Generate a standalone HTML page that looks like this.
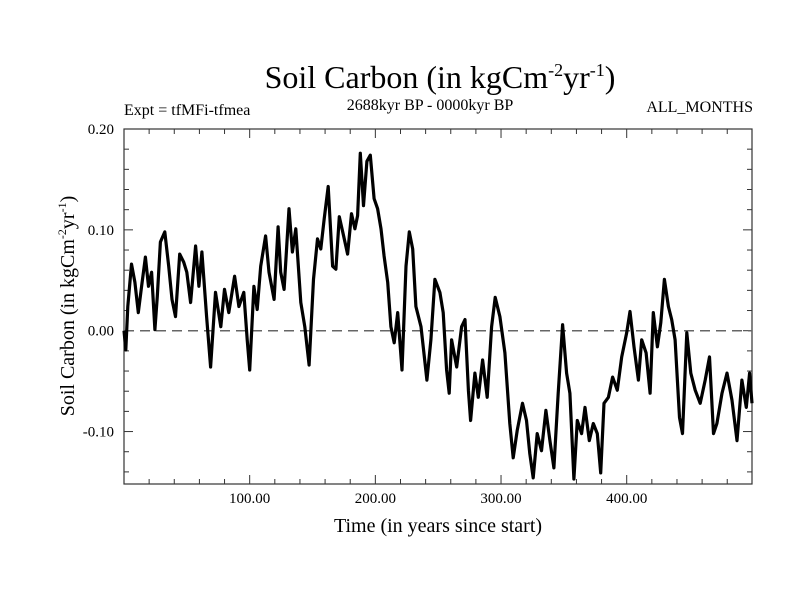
<!DOCTYPE html>
<html><head><meta charset="utf-8"><style>
body{margin:0;background:#fff;}
svg{display:block;font-family:"Liberation Serif",serif;}
</style></head><body>
<svg id="chart" width="800" height="600">
<text x="440" y="88" font-size="32" text-anchor="middle">Soil Carbon (in kgCm<tspan dy="-12" font-size="18">-2</tspan><tspan dy="12">yr</tspan><tspan dy="-12" font-size="18">-1</tspan><tspan dy="12">)</tspan></text>
<text x="124" y="115" font-size="16">Expt = tfMFi-tfmea</text>
<text x="430" y="110" font-size="16" text-anchor="middle">2688kyr BP - 0000kyr BP</text>
<text x="753" y="112" font-size="16" text-anchor="end">ALL_MONTHS</text>
<text x="438" y="532" font-size="20" text-anchor="middle">Time (in years since start)</text>
<text transform="translate(74,306) rotate(-90)" font-size="20" text-anchor="middle">Soil Carbon (in kgCm<tspan dy="-8" font-size="12">-2</tspan><tspan dy="8">yr</tspan><tspan dy="-8" font-size="12">-1</tspan><tspan dy="8">)</tspan></text>
<g id="axes"></g>
<g id="plot"></g>
</svg>
<script>
const years=[0,1.4,3,6,8.7,11.4,14,17,19.5,22,24.6,26.5,29,32.5,35.6,38.2,41,44.3,47.5,50,53,57,59.6,62,65.7,68.9,72.8,77,80,83.4,88,91.4,95.3,98,100,103.4,106,108.8,112.7,115.4,119.4,122.6,124.7,127.4,131.3,134,136.7,140.7,143.9,147.3,150.8,154,156.6,159.3,162.5,166,168.6,171.3,174.7,177.9,181,183.7,185.9,188,190.6,193.3,196,199,201.8,204.5,207,209.8,212.4,215,217.8,221.2,224.4,227,229.7,232.3,236.3,241,244.2,247.4,251.4,254,256.7,258.8,260.7,264.7,268.6,271.3,274,275.8,279.2,281.9,285.3,289,292.5,295.4,299.1,303.1,307,309.7,312.9,317.1,320.3,322.9,325.6,328.8,332.2,335.7,338.9,342.1,345.5,349,352.2,354.8,358,360.7,364.1,366.8,370.2,373.4,376.6,379.3,381.9,385.4,388.8,392.5,396,400,402.6,405.8,409.3,411.9,415.4,418.6,421.2,424.4,427.1,430,433.2,435.8,438.5,442,444.4,447.8,451,454.5,458.5,462.5,465.9,469.1,471.8,475.8,479.8,483.8,487.8,491.7,495.2,497.8,499.7];
const values=[0,-0.019,0.024,0.066,0.048,0.018,0.044,0.073,0.044,0.058,0.001,0.034,0.088,0.098,0.064,0.031,0.014,0.076,0.068,0.058,0.028,0.084,0.044,0.078,0.014,-0.036,0.038,0.004,0.041,0.018,0.054,0.024,0.038,-0.009,-0.039,0.044,0.021,0.064,0.094,0.058,0.031,0.103,0.058,0.041,0.121,0.078,0.101,0.028,0.004,-0.034,0.051,0.091,0.081,0.111,0.143,0.064,0.061,0.113,0.094,0.076,0.116,0.101,0.114,0.176,0.124,0.168,0.174,0.131,0.121,0.101,0.074,0.048,0.004,-0.012,0.018,-0.039,0.064,0.098,0.081,0.024,0.004,-0.049,-0.009,0.051,0.038,0.018,-0.039,-0.062,-0.009,-0.036,0.004,0.011,-0.059,-0.089,-0.042,-0.066,-0.029,-0.066,0.004,0.033,0.014,-0.022,-0.092,-0.126,-0.099,-0.072,-0.089,-0.122,-0.146,-0.102,-0.119,-0.079,-0.109,-0.136,-0.062,0.006,-0.042,-0.062,-0.147,-0.089,-0.102,-0.076,-0.109,-0.092,-0.102,-0.141,-0.072,-0.066,-0.046,-0.059,-0.026,-0.002,0.019,-0.016,-0.049,-0.009,-0.022,-0.062,0.018,-0.016,0.008,0.051,0.024,0.011,-0.009,-0.086,-0.102,-0.002,-0.042,-0.059,-0.072,-0.049,-0.026,-0.102,-0.092,-0.062,-0.042,-0.069,-0.109,-0.049,-0.076,-0.042,-0.072];
const xTickValues=[100,200,300,400];
const xTickLabels=["100.00","200.00","300.00","400.00"];
const yTickValues=[0.2,0.1,0,-0.1];
const yTickLabels=["0.20","0.10","0.00","-0.10"];
const L=124,R=752,T=129,B=484,X0=0,X1=499.7,Y0=-0.152,Y1=0.2;
const xs=v=>L+(v-X0)/(X1-X0)*(R-L);
const ys=v=>B-(v-Y0)/(Y1-Y0)*(B-T);
const NS="http://www.w3.org/2000/svg";
const axes=document.getElementById('axes'),plot=document.getElementById('plot');
function mk(tag,attrs,parent){const e=document.createElementNS(NS,tag);for(const k in attrs)e.setAttribute(k,attrs[k]);parent.appendChild(e);return e;}
const frame=mk('rect',{x:L,y:T,width:R-L,height:B-T,fill:'none',stroke:'#333','stroke-width':1.2},axes);


for(let v=20;v<X1;v+=20){const major=v%100===0;const len=major?9:5;const x=xs(v);
 const t1=mk('line',{x1:x,x2:x,y1:B,y2:B-len,stroke:'#333'},axes);
 
 
 const t2=mk('line',{x1:x,x2:x,y1:T,y2:T+len,stroke:'#333'},axes);
 
 }
for(let i=-7;i<=10;i++){const v=i*0.02;if(v<Y0)continue;const major=i%5===0;const len=major?9:5;const y=ys(v);
 const t1=mk('line',{x1:L,x2:L+len,y1:y,y2:y,stroke:'#333'},axes);
 
 
 const t2=mk('line',{x1:R,x2:R-len,y1:y,y2:y,stroke:'#333'},axes);
 
 }
xTickValues.forEach((v,i)=>{const t=mk('text',{x:xs(v),y:B+19,'font-size':15,'text-anchor':'middle'},axes);t.textContent=xTickLabels[i];
 
 });
yTickValues.forEach((v,i)=>{const t=mk('text',{x:L-10,y:ys(v)+5,'font-size':15,'text-anchor':'end'},axes);t.textContent=yTickLabels[i];
 
 });
const zl=mk('line',{x1:L,x2:R,y1:ys(0),y2:ys(0),stroke:'#666','stroke-width':1.5,'stroke-dasharray':'10 6'},plot);


const d=years.map((y,i)=>(i?'L':'M')+xs(y).toFixed(1)+','+ys(values[i]).toFixed(1)).join('');
const p=mk('path',{d:d,fill:'none',stroke:'#000','stroke-width':3.2,'stroke-linejoin':'round'},plot);


</script>
</body></html>
